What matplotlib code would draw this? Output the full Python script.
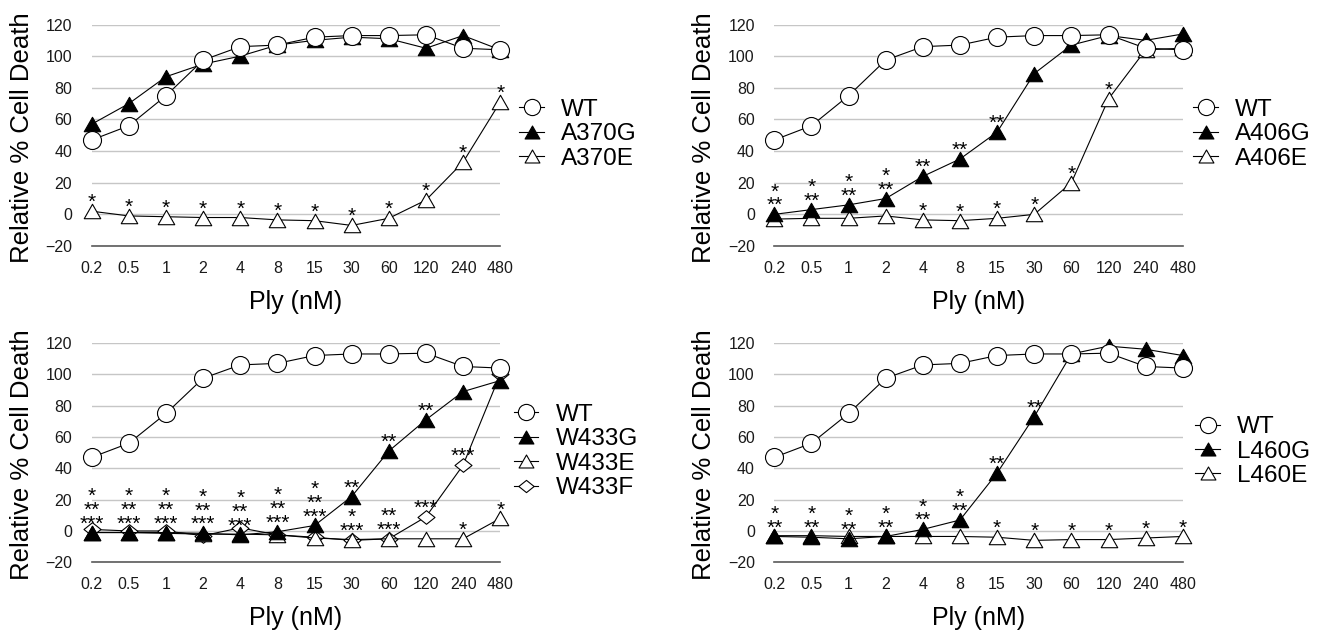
import matplotlib
matplotlib.use("Agg")
import matplotlib.pyplot as plt
from matplotlib.path import Path

plt.rcParams['font.family'] = ['Liberation Sans', 'DejaVu Sans']

# ---------------- data ----------------
doses = ["0.2", "0.5", "1", "2", "4", "8", "15", "30", "60", "120", "240", "480"]
y_ticks = [-20, 0, 20, 40, 60, 80, 100, 120]

wt = [47, 56, 75, 97.5, 106, 107, 112, 113, 113, 113.5, 105, 104]

a370g = [57, 70, 87, 95, 100, 107, 110, 112, 111, 105, 113, 104]
a370e = [2, -1, -1.5, -2, -2, -3.5, -4, -7, -2.5, 9, 33, 71]

a406g = [0, 3, 6, 10, 24, 35, 52, 89, 107, 113, 110, 114]
a406e = [-3, -2.5, -2.5, -1, -3.5, -4, -2.5, 0, 20, 73, 104, 105]

w433g = [-1, -1, -1, -1.5, -2.5, -0.5, 3.5, 22, 51, 71, 89, 96]
w433e = [-1, -1, -1.5, -2, -2, -2.5, -4.5, -5.5, -5, -5, -5, 8]
w433f = [1, 0, 0, -3, 2, -2.5, -4, -6, -5, 9, 42, 100]

l460g = [-3.5, -4, -5, -3.5, 1, 7, 37, 73, 113, 118, 116, 112]
l460e = [-3, -3, -3.5, -3.5, -3.5, -3.5, -4, -6, -5.5, -5.5, -4.5, -3.5]

# significance labels (attached to the series named)
a370e_stars = ["*", "*", "*", "*", "*", "*", "*", "*", "*", "*", "*", "*"]
a406g_stars = ["*\n**", "*\n**", "*\n**", "*\n**", "**", "**", "**", "", "", "", "", ""]
a406e_stars = ["", "", "", "", "*", "*", "*", "*", "*", "*", "", ""]
w433g_stars = ["*\n**\n***", "*\n**\n***", "*\n**\n***", "*\n**\n***", "*\n**\n***",
               "*\n**\n***", "*\n**\n***", "**", "**", "**", "", ""]
w433e_stars = ["", "", "", "", "", "", "", "*\n***", "**\n***", "", "*", "*"]
w433f_stars = ["", "", "", "", "", "", "", "", "", "***", "***", ""]
l460g_stars = ["*\n**", "*\n**", "*\n**", "*\n**", "*\n**", "*\n**", "**", "**", "", "", "", ""]
l460e_stars = ["", "", "", "", "", "", "*", "*", "*", "*", "*", "*"]

# ---------------- styles ----------------
DPI = 100
PX = 72.0 / DPI
tri = Path([(0, 0.875), (-1, -0.875), (1, -0.875), (0, 0.875)],
           [Path.MOVETO, Path.LINETO, Path.LINETO, Path.CLOSEPOLY])
dia = Path([(0, 0.8), (1, 0), (0, -0.8), (-1, 0), (0, 0.8)],
           [Path.MOVETO, Path.LINETO, Path.LINETO, Path.LINETO, Path.CLOSEPOLY])

STYLE = {
    "wt": dict(marker="o", markersize=18 * PX, markerfacecolor="white"),
    "fill": dict(marker=tri, markersize=16.5 * PX, markerfacecolor="black"),
    "open": dict(marker=tri, markersize=16.5 * PX, markerfacecolor="white"),
    "dia": dict(marker=dia, markersize=17 * PX, markerfacecolor="white"),
}

STAR_FS = 15
STAR_EM = STAR_FS / PX          # em size in pixels
STAR_LINESPACING = 10.0 / (0.729 * STAR_EM)

fig = plt.figure(figsize=(13.24, 6.32), dpi=DPI)

W = 408.5 / 1324
panels = [
    # left, bottom, height, legend_x
    (91.7 / 1324, 1 - 246 / 632, 221.5 / 632, 1.047),
    (774.3 / 1324, 1 - 246 / 632, 221.5 / 632, 1.026),
    (91.7 / 1324, 1 - 562.3 / 632, 219.3 / 632, 1.034),
    (774.3 / 1324, 1 - 562.3 / 632, 219.3 / 632, 1.031),
]

series_sets = [
    [("WT", wt, "wt", None), ("A370G", a370g, "fill", None), ("A370E", a370e, "open", a370e_stars)],
    [("WT", wt, "wt", None), ("A406G", a406g, "fill", a406g_stars), ("A406E", a406e, "open", a406e_stars)],
    [("WT", wt, "wt", None), ("W433G", w433g, "fill", w433g_stars), ("W433E", w433e, "open", w433e_stars),
     ("W433F", w433f, "dia", w433f_stars)],
    [("WT", wt, "wt", None), ("L460G", l460g, "fill", l460g_stars), ("L460E", l460e, "open", l460e_stars)],
]


def draw_stars(ax, values, labels):
    # bottom line's asterisk centre sits ~15.5 px above the marker centre
    off_px = 15.5 - (0.212 + 0.575) * STAR_EM
    for i, (v, lab) in enumerate(zip(values, labels)):
        if not lab:
            continue
        ax.annotate(lab, xy=(i, v), xytext=(0, off_px * PX), textcoords="offset points",
                    ha="center", va="bottom", multialignment="center",
                    linespacing=STAR_LINESPACING, fontsize=STAR_FS, color="black",
                    annotation_clip=False, zorder=10)


for (left, bottom, height, legx), sset in zip(panels, series_sets):
    ax = fig.add_axes([left, bottom, W, height])
    x = list(range(len(doses)))
    handles = []
    for j, (name, vals, sty, stars) in enumerate(sset):
        ln, = ax.plot(x, vals, color="black", lw=0.8, markeredgecolor="black",
                      markeredgewidth=0.8, label=name, clip_on=False, zorder=6 - j,
                      **STYLE[sty])
        handles.append(ln)
    for j, (name, vals, sty, stars) in enumerate(sset):
        if stars:
            draw_stars(ax, vals, stars)

    ax.set_xlim(0, len(doses) - 1)
    ax.set_ylim(-20, 120)
    ax.set_xticks(x)
    ax.set_xticklabels(doses)
    ax.set_yticks(y_ticks)
    ax.tick_params(axis="both", length=0, labelsize=11.5, colors="#1a1a1a")
    ax.tick_params(axis="y", pad=14)
    ax.tick_params(axis="x", pad=10.5)
    ax.yaxis.grid(True, color="#c6c6c6", lw=1.0)
    ax.set_axisbelow(True)
    for s in ("top", "right", "left"):
        ax.spines[s].set_visible(False)
    ax.spines["bottom"].set_color("#5a5a5a")
    ax.spines["bottom"].set_linewidth(1.2)

    ax.text(-0.1713, 0.49, "Relative % Cell Death", rotation=90, ha="center", va="center",
            fontsize=18.5, transform=ax.transAxes)
    ax.text(0.5, -0.252, "Ply (nM)", ha="center", va="center", fontsize=18,
            transform=ax.transAxes)

    ax.legend(handles=handles, loc="center left", bbox_to_anchor=(legx, 0.505),
              frameon=False, fontsize=17.5, handlelength=1.0, handletextpad=0.7,
              labelspacing=0.1, borderpad=0, borderaxespad=0, markerscale=0.9)

fig.savefig("out.png", dpi=DPI)
